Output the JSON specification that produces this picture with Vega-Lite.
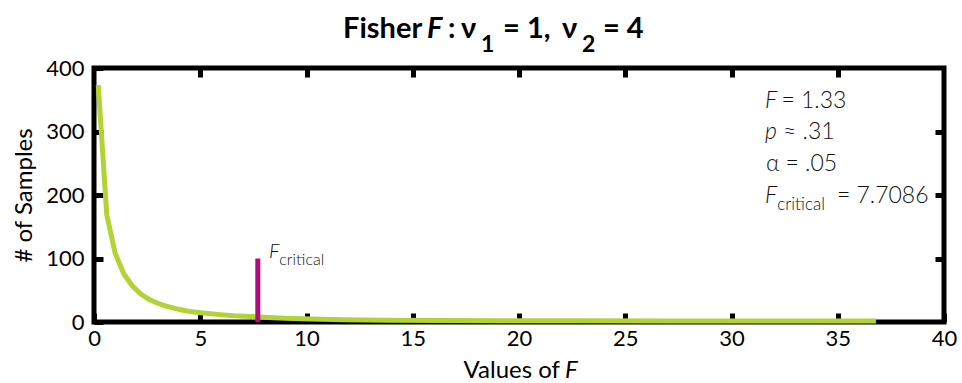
{
  "$schema": "https://vega.github.io/schema/vega-lite/v6.json",
  "width": 850,
  "height": 254,
  "autosize": "none",
  "padding": {"left": 94, "top": 68, "right": 18, "bottom": 61},
  "background": "white",
  "config": {
    "view": {"stroke": "#000000", "strokeWidth": 5},
    "axis": {"labelFont": "Lato", "titleFont": "Lato", "labelColor": "#000000", "titleColor": "#000000", "grid": false, "domain": false, "tickColor": "#000000"}
  },
  "datasets": {
    "curve": [
      {"F": 0.2, "count": 373}, {"F": 0.6, "count": 169}, {"F": 1.0, "count": 108},
      {"F": 1.4, "count": 76}, {"F": 1.8, "count": 57}, {"F": 2.2, "count": 44},
      {"F": 2.6, "count": 35.5}, {"F": 3.0, "count": 29.5}, {"F": 3.4, "count": 25},
      {"F": 3.8, "count": 21.5}, {"F": 4.2, "count": 18.5}, {"F": 4.6, "count": 16},
      {"F": 5.0, "count": 14.5}, {"F": 5.8, "count": 12}, {"F": 6.6, "count": 10},
      {"F": 7.4, "count": 8.6}, {"F": 8.2, "count": 7}, {"F": 9.0, "count": 5.8},
      {"F": 10.2, "count": 4.6}, {"F": 11.8, "count": 3.6}, {"F": 13.8, "count": 2.9},
      {"F": 16.2, "count": 2.5}, {"F": 19.0, "count": 2.1}, {"F": 22.6, "count": 1.8},
      {"F": 27.0, "count": 1.6}, {"F": 32.0, "count": 1.5}, {"F": 36.8, "count": 1.4}
    ],
    "critical": [{"F": 7.7086, "lo": 0, "hi": 100}]
  },
  "layer": [
    {
      "data": {"name": "curve"},
      "mark": {"type": "line", "color": "#b3d236", "strokeWidth": 5},
      "encoding": {
        "x": {"field": "F", "type": "quantitative", "scale": {"domain": [0, 40], "nice": false, "zero": false},
          "axis": {"orient": "bottom", "values": [0, 5, 10, 15, 20, 25, 30, 35, 40], "tickSize": -9, "tickWidth": 5, "labelPadding": 15, "labelFontSize": 22, "labelFlush": false, "title": null}},
        "y": {"field": "count", "type": "quantitative", "scale": {"domain": [0, 400], "nice": false},
          "axis": {"orient": "left", "values": [0, 100, 200, 300, 400], "tickSize": -9, "tickWidth": 5, "labelPadding": 19, "labelFontSize": 22, "title": "# of Samples", "titleFontSize": 24, "titleFontWeight": "normal", "titlePadding": 9}}
      }
    },
    {
      "data": {"name": "critical"},
      "mark": {"type": "rule", "color": "#b00d7b", "strokeWidth": 5},
      "encoding": {
        "x": {"field": "F", "type": "quantitative", "scale": {"domain": [0, 40], "nice": false, "zero": false},
          "axis": {"orient": "top", "values": [5, 10, 15, 20, 25, 30, 35], "tickSize": -9, "tickWidth": 5, "labels": false, "title": null}},
        "y": {"field": "lo", "type": "quantitative", "scale": {"domain": [0, 400], "nice": false},
          "axis": {"orient": "right", "values": [100, 200, 300], "tickSize": -9, "tickWidth": 5, "labels": false, "title": null}},
        "y2": {"field": "hi"}
      }
    },
    {"data": {"values": [{"t": "Fisher"}]}, "mark": {"type": "text", "align": "left", "baseline": "alphabetic", "font": "Lato", "fontSize": 29, "fontWeight": "bold", "color": "#000000"},
      "encoding": {"x": {"datum": 11.72, "type": "quantitative", "axis": null}, "y": {"datum": 447.2, "type": "quantitative", "axis": null}, "text": {"field": "t"}}},
    {"data": {"values": [{"t": "F"}]}, "mark": {"type": "text", "align": "left", "baseline": "alphabetic", "font": "Lato", "fontSize": 29, "fontWeight": "bold", "fontStyle": "italic", "color": "#000000"},
      "encoding": {"x": {"datum": 15.67, "type": "quantitative", "axis": null}, "y": {"datum": 447.2, "type": "quantitative", "axis": null}, "text": {"field": "t"}}},
    {"data": {"values": [{"t": ":"}]}, "mark": {"type": "text", "align": "left", "baseline": "alphabetic", "font": "Lato", "fontSize": 29, "fontWeight": "bold", "color": "#000000"},
      "encoding": {"x": {"datum": 16.66, "type": "quantitative", "axis": null}, "y": {"datum": 447.2, "type": "quantitative", "axis": null}, "text": {"field": "t"}}},
    {"data": {"values": [{"t": "ν"}]}, "mark": {"type": "text", "align": "left", "baseline": "alphabetic", "font": "Lato", "fontSize": 29, "fontWeight": "bold", "color": "#000000"},
      "encoding": {"x": {"datum": 17.27, "type": "quantitative", "axis": null}, "y": {"datum": 447.2, "type": "quantitative", "axis": null}, "text": {"field": "t"}}},
    {"data": {"values": [{"t": "1"}]}, "mark": {"type": "text", "align": "left", "baseline": "alphabetic", "font": "Lato", "fontSize": 23, "fontWeight": "bold", "color": "#000000"},
      "encoding": {"x": {"datum": 18.21, "type": "quantitative", "axis": null}, "y": {"datum": 425.2, "type": "quantitative", "axis": null}, "text": {"field": "t"}}},
    {"data": {"values": [{"t": "= 1,"}]}, "mark": {"type": "text", "align": "left", "baseline": "alphabetic", "font": "Lato", "fontSize": 29, "fontWeight": "bold", "color": "#000000"},
      "encoding": {"x": {"datum": 19.25, "type": "quantitative", "axis": null}, "y": {"datum": 447.2, "type": "quantitative", "axis": null}, "text": {"field": "t"}}},
    {"data": {"values": [{"t": "ν"}]}, "mark": {"type": "text", "align": "left", "baseline": "alphabetic", "font": "Lato", "fontSize": 29, "fontWeight": "bold", "color": "#000000"},
      "encoding": {"x": {"datum": 22.02, "type": "quantitative", "axis": null}, "y": {"datum": 447.2, "type": "quantitative", "axis": null}, "text": {"field": "t"}}},
    {"data": {"values": [{"t": "2"}]}, "mark": {"type": "text", "align": "left", "baseline": "alphabetic", "font": "Lato", "fontSize": 23, "fontWeight": "bold", "color": "#000000"},
      "encoding": {"x": {"datum": 22.96, "type": "quantitative", "axis": null}, "y": {"datum": 425.2, "type": "quantitative", "axis": null}, "text": {"field": "t"}}},
    {"data": {"values": [{"t": "= 4"}]}, "mark": {"type": "text", "align": "left", "baseline": "alphabetic", "font": "Lato", "fontSize": 29, "fontWeight": "bold", "color": "#000000"},
      "encoding": {"x": {"datum": 23.95, "type": "quantitative", "axis": null}, "y": {"datum": 447.2, "type": "quantitative", "axis": null}, "text": {"field": "t"}}},
    {"data": {"values": [{"t": "Values of"}]}, "mark": {"type": "text", "align": "right", "baseline": "alphabetic", "font": "Lato", "fontSize": 24, "color": "#000000"},
      "encoding": {"x": {"datum": 21.93, "type": "quantitative", "axis": null}, "y": {"datum": -88.2, "type": "quantitative", "axis": null}, "text": {"field": "t"}}},
    {"data": {"values": [{"t": "F"}]}, "mark": {"type": "text", "align": "left", "baseline": "alphabetic", "font": "Lato", "fontSize": 24, "fontStyle": "italic", "color": "#000000"},
      "encoding": {"x": {"datum": 22.16, "type": "quantitative", "axis": null}, "y": {"datum": -88.2, "type": "quantitative", "axis": null}, "text": {"field": "t"}}},
    {"data": {"values": [{"t": "F"}]}, "mark": {"type": "text", "align": "left", "baseline": "alphabetic", "font": "Lato", "fontSize": 20, "fontWeight": 300, "fontStyle": "italic", "color": "#111111"},
      "encoding": {"x": {"datum": 8.24, "type": "quantitative", "axis": null}, "y": {"datum": 100.8, "type": "quantitative", "axis": null}, "text": {"field": "t"}}},
    {"data": {"values": [{"t": "critical"}]}, "mark": {"type": "text", "align": "left", "baseline": "alphabetic", "font": "Lato", "fontSize": 16, "fontWeight": 300, "color": "#111111"},
      "encoding": {"x": {"datum": 8.72, "type": "quantitative", "axis": null}, "y": {"datum": 89.8, "type": "quantitative", "axis": null}, "text": {"field": "t"}}},
    {"data": {"values": [{"t": "F"}]}, "mark": {"type": "text", "align": "left", "baseline": "alphabetic", "font": "Lato", "fontSize": 23, "fontWeight": 300, "fontStyle": "italic", "color": "#111111"},
      "encoding": {"x": {"datum": 31.58, "type": "quantitative", "axis": null}, "y": {"datum": 337.0, "type": "quantitative", "axis": null}, "text": {"field": "t"}}},
    {"data": {"values": [{"t": "= 1.33"}]}, "mark": {"type": "text", "align": "left", "baseline": "alphabetic", "font": "Lato", "fontSize": 23, "fontWeight": 300, "color": "#111111"},
      "encoding": {"x": {"datum": 32.35, "type": "quantitative", "axis": null}, "y": {"datum": 337.0, "type": "quantitative", "axis": null}, "text": {"field": "t"}}},
    {"data": {"values": [{"t": "p"}]}, "mark": {"type": "text", "align": "left", "baseline": "alphabetic", "font": "Lato", "fontSize": 23, "fontWeight": 300, "fontStyle": "italic", "color": "#111111"},
      "encoding": {"x": {"datum": 31.58, "type": "quantitative", "axis": null}, "y": {"datum": 288.2, "type": "quantitative", "axis": null}, "text": {"field": "t"}}},
    {"data": {"values": [{"t": "≈ .31"}]}, "mark": {"type": "text", "align": "left", "baseline": "alphabetic", "font": "Lato", "fontSize": 23, "fontWeight": 300, "color": "#111111"},
      "encoding": {"x": {"datum": 32.42, "type": "quantitative", "axis": null}, "y": {"datum": 288.2, "type": "quantitative", "axis": null}, "text": {"field": "t"}}},
    {"data": {"values": [{"t": "α = .05"}]}, "mark": {"type": "text", "align": "left", "baseline": "alphabetic", "font": "Lato", "fontSize": 23, "fontWeight": 300, "color": "#111111"},
      "encoding": {"x": {"datum": 31.62, "type": "quantitative", "axis": null}, "y": {"datum": 237.8, "type": "quantitative", "axis": null}, "text": {"field": "t"}}},
    {"data": {"values": [{"t": "F"}]}, "mark": {"type": "text", "align": "left", "baseline": "alphabetic", "font": "Lato", "fontSize": 23, "fontWeight": 300, "fontStyle": "italic", "color": "#111111"},
      "encoding": {"x": {"datum": 31.58, "type": "quantitative", "axis": null}, "y": {"datum": 187.4, "type": "quantitative", "axis": null}, "text": {"field": "t"}}},
    {"data": {"values": [{"t": "critical"}]}, "mark": {"type": "text", "align": "left", "baseline": "alphabetic", "font": "Lato", "fontSize": 17, "fontWeight": 300, "color": "#111111"},
      "encoding": {"x": {"datum": 32.15, "type": "quantitative", "axis": null}, "y": {"datum": 176.4, "type": "quantitative", "axis": null}, "text": {"field": "t"}}},
    {"data": {"values": [{"t": "= 7.7086"}]}, "mark": {"type": "text", "align": "left", "baseline": "alphabetic", "font": "Lato", "fontSize": 23, "fontWeight": 300, "color": "#111111"},
      "encoding": {"x": {"datum": 34.96, "type": "quantitative", "axis": null}, "y": {"datum": 187.4, "type": "quantitative", "axis": null}, "text": {"field": "t"}}}
  ],
  "resolve": {"axis": {"x": "independent", "y": "independent"}}
}
